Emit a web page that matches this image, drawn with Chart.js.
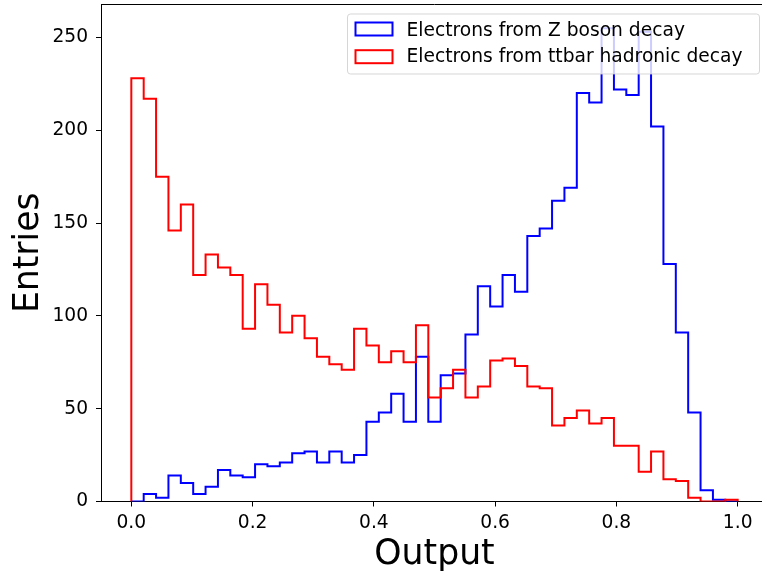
<!DOCTYPE html>
<html>
<head>
<meta charset="utf-8">
<script src="https://cdn.jsdelivr.net/npm/chart.js@4.4.0/dist/chart.umd.min.js"></script>
<style>
html, body { margin: 0; padding: 0; background: #fff; overflow: hidden; }
#wrap { position: relative; width: 769px; height: 573px; }
</style>
</head>
<body>
<div id="wrap"><canvas id="hist"></canvas></div>
<script>
// series names
const seriesNames = ["Electrons from Z boson decay", "Electrons from ttbar hadronic decay"];

// entries per bin, 49 bins between 0 and 1
const zBoson = [0, 4, 2, 14, 10, 4, 8, 17, 14, 13,
    20, 19, 21, 26, 27, 21, 27, 21, 25, 43,
    48, 58, 43, 78, 43, 68, 69, 90, 116, 105,
    122, 113, 143, 147, 162, 169, 220, 215, 255, 222,
    219, 253, 202, 128, 91, 48, 6, 1, 0];
const ttbar = [228, 217, 175, 146, 160, 122, 133, 126, 122, 93,
    117, 106, 91, 100, 88, 78, 74, 71, 93, 84,
    75, 81, 75, 95, 56, 61, 71, 56, 62, 76,
    77, 73, 62, 61, 41, 45, 49, 42, 45, 30,
    30, 16, 27, 12, 11, 2, 0, 0, 1];

const xTicks = [0, 0.2, 0.4, 0.6, 0.8, 1.0];
const yTicks = [0, 50, 100, 150, 200, 250];

// bin edges: 50 edges from 0 to 1
const nBins = zBoson.length;
const binEdges = [];
for (let i = 0; i <= nBins; i++) binEdges.push(i / nBins);

// outline of a step histogram
function stepPoints(counts) {
    const pts = [{x: binEdges[0], y: 0}];
    counts.forEach(function(c, i) {
        pts.push({x: binEdges[i], y: c});
        pts.push({x: binEdges[i + 1], y: c});
    });
    pts.push({x: binEdges[nBins], y: 0});
    return pts;
}

Chart.defaults.font.family = "'DejaVu Sans', sans-serif";
Chart.defaults.color = "#000";

// top spine
const topSpine = {
    id: "topSpine",
    afterDraw(chart) {
        const a = chart.chartArea;
        const ctx = chart.ctx;
        ctx.save();
        ctx.strokeStyle = "#000";
        ctx.lineWidth = 1;
        ctx.beginPath();
        ctx.moveTo(a.left, a.top + 0.5);
        ctx.lineTo(a.right, a.top + 0.5);
        ctx.stroke();
        ctx.restore();
    }
};

// matplotlib-like framed legend, upper right
const boxLegend = {
    id: "boxLegend",
    afterDatasetsDraw(chart) {
        const a = chart.chartArea;
        const ctx = chart.ctx;
        const w = 412, h = 60;
        const x = a.right - 9 - w, y = a.top + 9.5;
        ctx.save();
        ctx.beginPath();
        ctx.roundRect(x + 0.5, y + 0.5, w, h, 3);
        ctx.fillStyle = "rgba(255,255,255,0.8)";
        ctx.fill();
        ctx.strokeStyle = "rgba(204,204,204,0.8)";
        ctx.lineWidth = 1;
        ctx.stroke();
        ctx.font = "18.67px 'DejaVu Sans'";
        ctx.textBaseline = "alphabetic";
        chart.data.datasets.forEach(function(ds, i) {
            const cy = y + 15.5 + i * 27.7;
            ctx.strokeStyle = ds.borderColor;
            ctx.lineWidth = 2;
            ctx.strokeRect(x + 8.5, cy - 6.5, 37, 13);
            ctx.fillStyle = "#000";
            ctx.fillText(ds.label, x + 59.5, y + 22.2 + i * 26.6);
        });
        ctx.restore();
    }
};

const data = {
    datasets: [
        {
            label: seriesNames[0],
            data: stepPoints(zBoson),
            borderColor: "#0000ff",
            borderWidth: 2,
            showLine: true,
            pointRadius: 0,
            fill: false,
            order: 2
        },
        {
            label: seriesNames[1],
            data: stepPoints(ttbar),
            borderColor: "#ff0000",
            borderWidth: 2,
            showLine: true,
            pointRadius: 0,
            fill: false,
            order: 1
        }
    ]
};

const chart = new Chart(document.getElementById("hist"), {
    type: "scatter",
    data: data,
    options: {
        responsive: true,
        maintainAspectRatio: false,
        animation: false,
        layout: {padding: {top: 4, right: 1, left: 0, bottom: 0}},
        plugins: {legend: {display: false}, tooltip: {enabled: false}},
        scales: {
            x: {
                type: "linear",
                min: -0.05,
                max: 1.05,
                afterBuildTicks: function(s) { s.ticks = xTicks.map(v => ({value: v})); },
                afterFit: function(s) {
                    s.height = 71.5;
                    s.paddingLeft = 0;
                    s.paddingRight = 0;
                },
                ticks: {
                    font: {size: 18.67},
                    padding: 5,
                    maxRotation: 0,
                    callback: v => v.toFixed(1)
                },
                grid: {drawOnChartArea: false, tickLength: 5, tickColor: "#000", tickWidth: 1},
                border: {color: "#000", width: 1},
                title: {display: true, text: "Output", font: {size: 34.67}, padding: {top: 0, bottom: -3}}
            },
            y: {
                min: 0,
                max: 268,
                afterBuildTicks: function(s) { s.ticks = yTicks.map(v => ({value: v})); },
                afterFit: function(s) {
                    s.width = 101;
                    s.paddingTop = 0;
                    s.paddingBottom = 0;
                },
                ticks: {font: {size: 18.67}, padding: 8},
                grid: {drawOnChartArea: false, tickLength: 5, tickColor: "#000", tickWidth: 1},
                border: {color: "#000", width: 1},
                title: {display: true, text: "Entries", font: {size: 34.67}, padding: {top: 8, bottom: 0}}
            }
        }
    },
    plugins: [topSpine, boxLegend]
});
</script>
</body>
</html>
